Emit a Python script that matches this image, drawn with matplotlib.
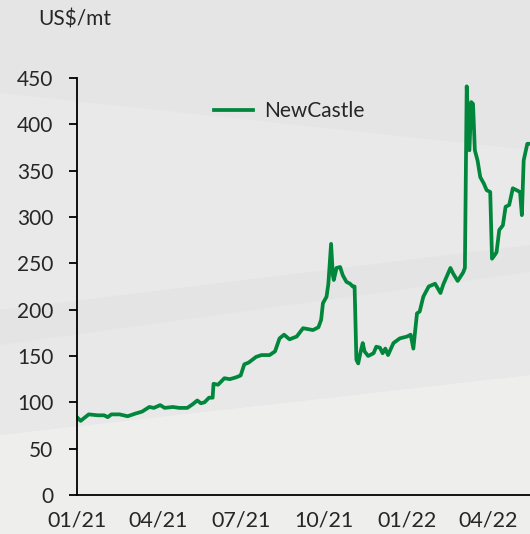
import numpy as np
import pandas as pd
import matplotlib
matplotlib.use("Agg")
import matplotlib.pyplot as plt
import matplotlib.dates as mdates
from matplotlib.patches import Polygon

plt.rcParams['font.family'] = ['Lato', 'DejaVu Sans']

# NewCastle coal price, US$/mt
dates = [
    "2021-01-02", "2021-01-05", "2021-01-14", "2021-01-24", "2021-01-31", "2021-02-04",
    "2021-02-08", "2021-02-17", "2021-02-26", "2021-03-07", "2021-03-14", "2021-03-22",
    "2021-03-27", "2021-04-03", "2021-04-08", "2021-04-17", "2021-04-24", "2021-05-03",
    "2021-05-09", "2021-05-14", "2021-05-18", "2021-05-22", "2021-05-27", "2021-05-31",
    "2021-06-01", "2021-06-06", "2021-06-13", "2021-06-19", "2021-06-26", "2021-07-01",
    "2021-07-05", "2021-07-10", "2021-07-18", "2021-07-24", "2021-08-02", "2021-08-08",
    "2021-08-13", "2021-08-18", "2021-08-24", "2021-09-01", "2021-09-08", "2021-09-19",
    "2021-09-25", "2021-09-28", "2021-09-30", "2021-10-04", "2021-10-06", "2021-10-09",
    "2021-10-11", "2021-10-12", "2021-10-15", "2021-10-19", "2021-10-22", "2021-10-26",
    "2021-10-30", "2021-11-02", "2021-11-04", "2021-11-06", "2021-11-08", "2021-11-11",
    "2021-11-13", "2021-11-15", "2021-11-19", "2021-11-25", "2021-11-28", "2021-12-02",
    "2021-12-05", "2021-12-08", "2021-12-11", "2021-12-17", "2021-12-24", "2022-01-01",
    "2022-01-05", "2022-01-08", "2022-01-12", "2022-01-15", "2022-01-19", "2022-01-25",
    "2022-02-01", "2022-02-07", "2022-02-10", "2022-02-18", "2022-02-21", "2022-02-26",
    "2022-03-04", "2022-03-06", "2022-03-08", "2022-03-11", "2022-03-13", "2022-03-15",
    "2022-03-17", "2022-03-20", "2022-03-23", "2022-03-27", "2022-03-30", "2022-04-03",
    "2022-04-05", "2022-04-08", "2022-04-10", "2022-04-13", "2022-04-17", "2022-04-20",
    "2022-04-24", "2022-04-28", "2022-05-02", "2022-05-06", "2022-05-08", "2022-05-10",
    "2022-05-14", "2022-05-17",
]
newcastle = [
    83, 80, 87, 86, 86, 84,
    87, 87, 85, 88, 90, 95,
    94, 97, 94, 95, 94, 94,
    98, 102, 99, 100, 105, 105,
    120, 119, 126, 125, 127, 129,
    141, 143, 149, 151, 151, 155,
    169, 173, 168, 171, 180, 178,
    181, 189, 207, 214, 228, 271,
    237, 232, 245, 246, 237, 230,
    228, 225, 225, 146, 142, 156,
    164, 155, 150, 153, 160, 159,
    153, 158, 151, 164, 169, 171,
    173, 158, 196, 198, 214, 225,
    228, 218, 227, 245, 239, 231,
    240, 245, 441, 372, 424, 422,
    372, 361, 343, 336, 329, 327,
    255, 259, 262, 286, 291, 311,
    313, 331, 329, 327, 302, 361,
    379, 379,
]
yticks = [0, 50, 100, 150, 200, 250, 300, 350, 400, 450]

W, H = 530, 534
fig = plt.figure(figsize=(W / 100, H / 100), dpi=100)
fig.patch.set_facecolor("#e5e5e5")


def px(pts):
    # pixel coords (y from top) -> figure fraction
    return [(x / W, 1 - y / H) for x, y in pts]


# soft background shapes
bg = [
    ([(0, 93), (530, 150), (530, 272), (0, 345)], "#e9e9e9"),
    ([(0, 310), (530, 245), (530, 272), (0, 345)], "#e4e4e4"),
    ([(0, 345), (530, 272), (530, 375), (0, 435)], "#e8e8e8"),
    ([(0, 435), (530, 375), (530, 534), (0, 534)], "#eeeeec"),
]
for pts, c in bg:
    fig.add_artist(Polygon(px(pts), closed=True, transform=fig.transFigure,
                           facecolor=c, edgecolor="none", zorder=-10))

ax = fig.add_axes([77 / W, 1 - 495 / H, 1 - 77 / W, (495 - 78) / H])
ax.set_facecolor("none")

x = pd.to_datetime(dates)
ax.plot(x, newcastle, color="#00873C", lw=2.7, label="NewCastle",
        solid_joinstyle="round")

ax.set_ylim(0, 450)
ax.set_yticks(yticks)
ax.set_xlim(pd.Timestamp("2021-01-01"), pd.Timestamp("2022-05-17"))
ax.xaxis.set_major_locator(mdates.MonthLocator(bymonth=[1, 4, 7, 10]))
ax.xaxis.set_major_formatter(mdates.DateFormatter("%m/%y"))

for s in ["top", "right"]:
    ax.spines[s].set_visible(False)
for s in ["left", "bottom"]:
    ax.spines[s].set_linewidth(1.3)
    ax.spines[s].set_color("black")

txt = "#262626"
ax.tick_params(axis="y", length=6, width=1.3, pad=11, labelsize=15, labelcolor=txt)
ax.tick_params(axis="x", length=0, pad=11, labelsize=15.5, labelcolor=txt)

leg = ax.legend(loc="upper left", bbox_to_anchor=(0.26, 0.99), frameon=False,
                handlelength=1.9, handletextpad=0.55, fontsize=15)
for t in leg.get_texts():
    t.set_color(txt)

fig.text(38 / W, 1 - 19 / H, "US$/mt", fontsize=15, color=txt,
         va="center", ha="left")

fig.savefig("out.png", dpi=100, facecolor=fig.get_facecolor())
